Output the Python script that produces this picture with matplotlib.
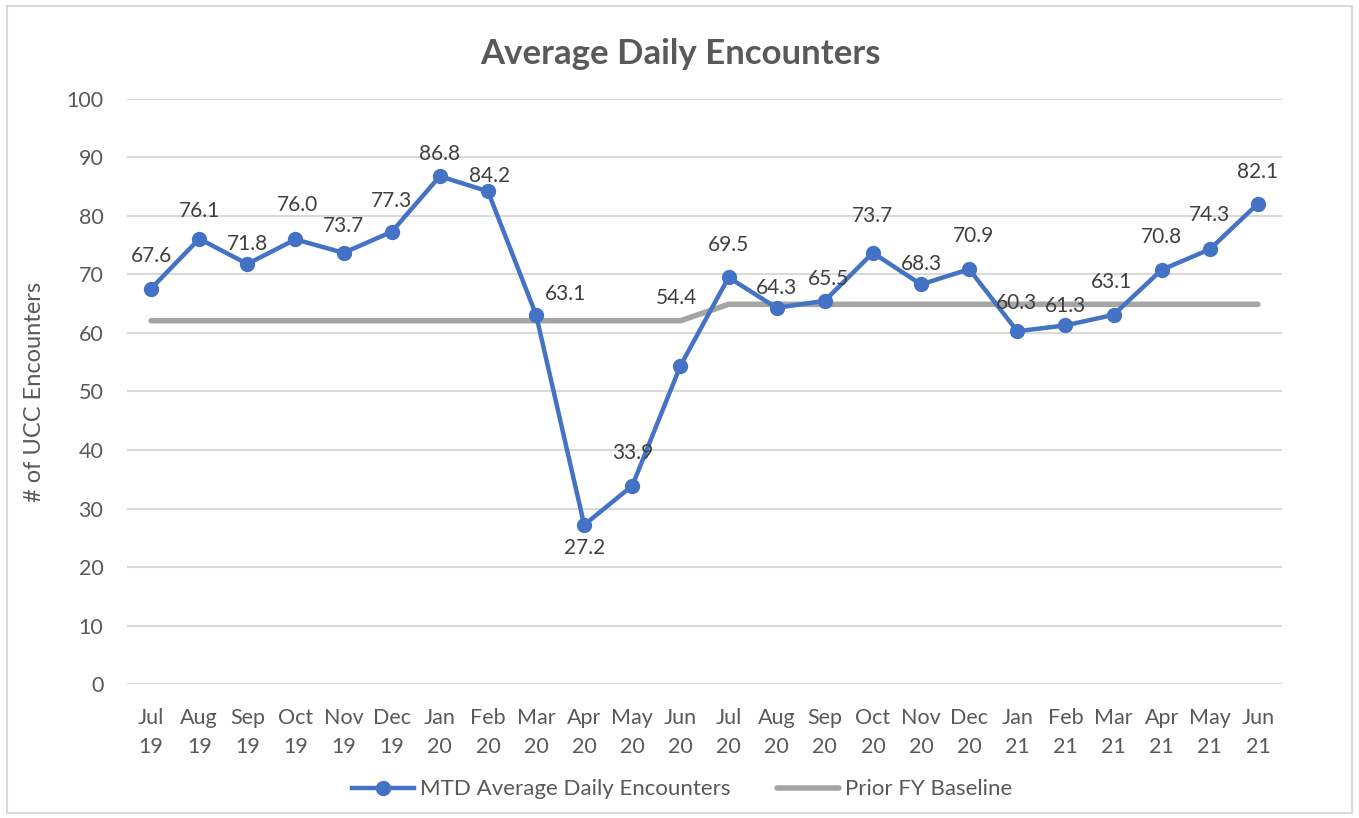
import numpy as np
import matplotlib.pyplot as plt
from matplotlib.patches import Rectangle

months = ['Jul\n19', 'Aug\n19', 'Sep\n19', 'Oct\n19', 'Nov\n19', 'Dec\n19',
          'Jan\n20', 'Feb\n20', 'Mar\n20', 'Apr\n20', 'May\n20', 'Jun\n20',
          'Jul\n20', 'Aug\n20', 'Sep\n20', 'Oct\n20', 'Nov\n20', 'Dec\n20',
          'Jan\n21', 'Feb\n21', 'Mar\n21', 'Apr\n21', 'May\n21', 'Jun\n21']
mtd = [67.6, 76.1, 71.8, 76.0, 73.7, 77.3, 86.8, 84.2, 63.1, 27.2, 33.9, 54.4,
       69.5, 64.3, 65.5, 73.7, 68.3, 70.9, 60.3, 61.3, 63.1, 70.8, 74.3, 82.1]
baseline = [62.1] * 12 + [64.9] * 12

# label offsets (pixels) relative to each marker, as placed in the original
lbl_dx = [0, 0, 0, 2, 0, 0, 0, 2, 29, 0, 0, -4,
          0, 0, 4, 0, 0, 4, -1, 0, -2, 0, 0, 0]
lbl_dy = [33, 28, 20, 34, 27, 31, 22, 15, 21, -23, 33, 68,
          32, 20, 22, 37, 20, 33, 28, 19, 33, 33, 34, 32]

plt.rcParams['font.family'] = ['Lato', 'DejaVu Sans']
txt = '#595959'

fig = plt.figure(figsize=(13.59, 8.18), dpi=100)
ax = fig.add_axes([0.0935, 0.1638, 0.8498, 0.7152])

x = np.arange(len(months))
ax.plot(x, baseline, color='#A5A5A5', lw=4, solid_capstyle='round',
        label='Prior FY Baseline', zorder=2)
ax.plot(x, mtd, color='#4472C4', lw=3.2, marker='o', ms=10,
        label='MTD Average Daily Encounters', zorder=3)

for i, v in enumerate(mtd):
    ax.annotate(f'{v:.1f}', (i, v), xytext=(lbl_dx[i], lbl_dy[i]),
                textcoords='offset pixels', ha='center', va='center',
                fontsize=15, color='#404040', zorder=4)

ax.set_xlim(-0.5, len(months) - 0.5)
ax.set_ylim(0, 100)
ax.set_yticks(range(0, 101, 10))
ax.set_xticks(x)
ax.set_xticklabels(months, linespacing=1.6)
ax.tick_params(axis='both', length=0, labelsize=15.5, labelcolor=txt)
ax.tick_params(axis='x', pad=17)
ax.tick_params(axis='y', pad=17)
ax.grid(axis='y', color='#D9D9D9', lw=1.5)
ax.set_axisbelow(True)
for s in ax.spines.values():
    s.set_visible(False)

ax.set_ylabel('# of UCC Encounters', fontsize=17, color=txt, labelpad=15)
fig.suptitle('Average Daily Encounters', x=0.501, y=0.953, fontsize=25,
             fontweight='bold', color=txt)

h, l = ax.get_legend_handles_labels()
fig.legend(h[::-1], l[::-1], loc='center', bbox_to_anchor=(0.502, 0.035),
           ncol=2, frameon=False, fontsize=16, labelcolor=txt,
           handlelength=2.8, columnspacing=2.1, handletextpad=0.25)

fig.patches.append(Rectangle((0.005, 0.006), 0.99, 0.987, transform=fig.transFigure,
                             fill=False, edgecolor='#D9D9D9', lw=1.5))

fig.savefig('out.png', dpi=100)
